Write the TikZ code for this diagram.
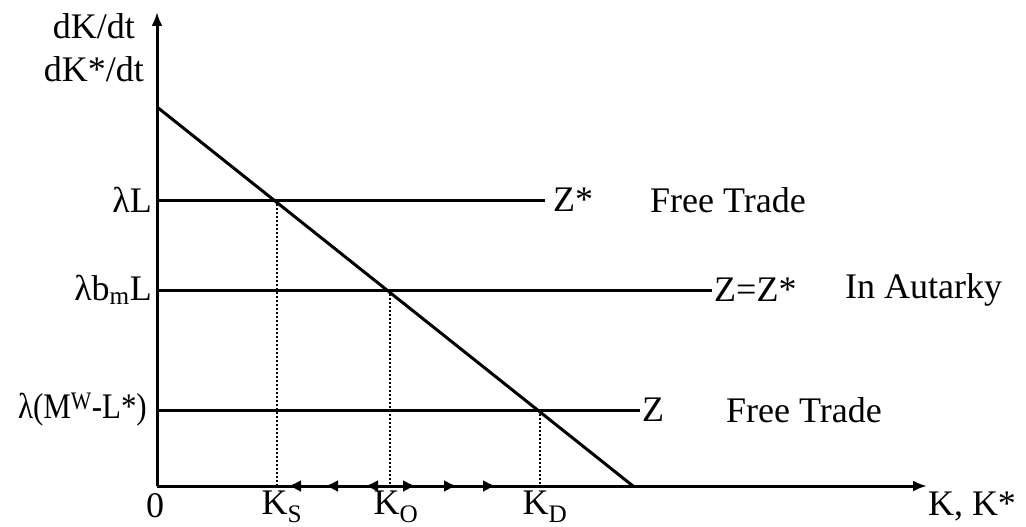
\documentclass[tikz,border=0pt]{standalone}
\usepackage{fontspec}
\setmainfont{Liberation Serif}
\usetikzlibrary{arrows.meta,calc}
\begin{document}
\begin{tikzpicture}[x=1pt,y=-1pt,
  axis/.style={line width=3pt,-{Latex[length=14pt,width=11pt]}},
  curve/.style={line width=3pt},
  guide/.style={line width=2pt,dotted},
  tick/.style={line width=2.4pt,-{Latex[length=13pt,width=12pt]}},
  lbl/.style={inner sep=0pt,font=\fontsize{36}{40}\selectfont}]
\useasboundingbox (0,0) rectangle (1026,527);
% key points
\coordinate (O) at (157,486);
\coordinate (ytop) at (157,12);
\coordinate (xend) at (927,486);
\coordinate (A) at (157,107);
\coordinate (B) at (633,486);
\coordinate (yL) at (157,200);
\coordinate (yB) at (157,290);
\coordinate (yM) at (157,410);
\coordinate (eL) at (545,200);
\coordinate (eB) at (712,290);
\coordinate (eM) at (640,410);
\coordinate (pS) at (277,200);
\coordinate (pO) at (390,290);
\coordinate (pD) at (540,410);
\coordinate (xS) at (277,486);
\coordinate (xO) at (390,486);
\coordinate (xD) at (540,486);
% axes
\draw[axis] (O) -- (ytop);
\draw[axis] (O) -- (xend);
% lines
\draw[curve] (A) -- (B);
\draw[curve] (yL) -- (eL);
\draw[curve] (yB) -- (eB);
\draw[curve] (yM) -- (eM);
% dotted
\draw[guide] (pS) -- (xS);
\draw[guide] (pO) -- (xO);
\draw[guide] (pD) -- (xD);
% arrows on axis
\coordinate (l1) at (288,486);
\coordinate (l2) at (325,486);
\coordinate (l3) at (365,486);
\coordinate (r1) at (416,486);
\coordinate (r2) at (457,486);
\coordinate (r3) at (496,486);
\draw[tick] ($(l1)+(15,0)$) -- (l1);
\draw[tick] ($(l2)+(15,0)$) -- (l2);
\draw[tick] ($(l3)+(15,0)$) -- (l3);
\draw[tick] ($(r1)+(-15,0)$) -- (r1);
\draw[tick] ($(r2)+(-15,0)$) -- (r2);
\draw[tick] ($(r3)+(-15,0)$) -- (r3);
% labels
\node[lbl] (ty1) at (94,26) {dK/dt};
\node[lbl] (ty2) at (94,69) {dK*/dt};
\node[lbl,anchor=east] (tL) at (152,200) {λL};
\node[lbl,anchor=east] (tB) at (152,290) {λb\textsubscript{m}L};
\node[lbl,anchor=east] (tM) at (147,410) {\scalebox{0.86}[1]{λ(M\textsuperscript{W}-L*)}};
\node[lbl] (t0) at (155,506) {0};
\node[lbl] (tS) at (282,507) {K\textsubscript{S}};
\node[lbl] (tO) at (396,507) {K\textsubscript{O}};
\node[lbl] (tD) at (545,507) {K\textsubscript{D}};
\node[lbl] (tK) at (972,506) {K, K*};
\node[lbl,anchor=west] (zs) at ($(eL)+(8,0)$) {Z*};
\node[lbl,anchor=west] (ft1) at (650,200) {Free Trade};
\node[lbl,anchor=west] (zz) at ($(eB)+(2,0)$) {Z=Z*};
\node[lbl,anchor=west] (ia) at (845,290) {In Autarky};
\node[lbl,anchor=west] (z) at ($(eM)+(2,0)$) {Z};
\node[lbl,anchor=west] (ft2) at (726,410) {Free Trade};
\end{tikzpicture}
\end{document}
